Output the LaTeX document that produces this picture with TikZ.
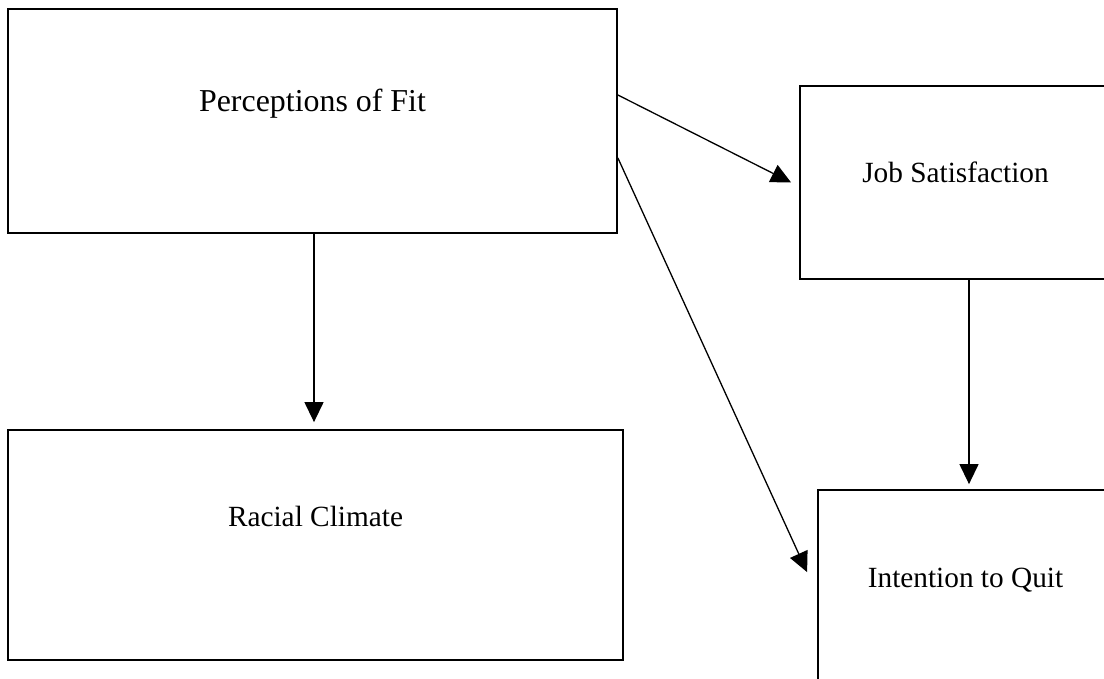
\documentclass[tikz,border=0pt]{standalone}
\usepackage{fontspec}
\setmainfont{Liberation Serif}
\usetikzlibrary{arrows.meta, positioning, calc}

\begin{document}
\begin{tikzpicture}[x=1pt, y=-1pt,
        box/.style={draw=black, line width=1.8pt, rectangle, inner sep=0pt},
        lbl/.style={anchor=base, inner sep=0pt, font=\fontsize{29.3}{35}\selectfont},
        arrow/.style={-{Triangle[length=20pt, width=19pt]}, line width=1.3pt, black}
    ]
        \useasboundingbox (0,0) rectangle (1104,678);
        \clip (0,0) rectangle (1104,678);

        % boxes
        \node[box, minimum width=609pt, minimum height=224pt] (pof) at (312.5,121) {};
        \node[box, minimum width=311pt, minimum height=193pt] (js) at (955.5,182.5) {};
        \node[box, minimum width=615pt, minimum height=230pt] (rc) at (315.5,545) {};
        \node[box, minimum width=295pt, minimum height=210pt] (iq) at (965.5,595) {};

        % labels
        \node[lbl, font=\fontsize{31.9}{38}\selectfont] (pof-txt) at ([yshift=-103pt]pof.north) {Perceptions of Fit};
        \node[lbl] (js-txt) at ([yshift=-97pt]js.north) {Job Satisfaction};
        \node[lbl] (rc-txt) at ([yshift=-97pt]rc.north) {Racial Climate};
        \node[lbl] (iq-txt) at ([yshift=-98pt]iq.north) {Intention to Quit};

        % paths
        \draw[arrow, shorten >=7pt] ([xshift=1.5pt]pof.south) -- ([xshift=1.5pt]pof.south |- rc.north);
        \draw[arrow] ([yshift=26pt]pof.east) -- ([xshift=-8pt]js.west);
        \draw[arrow] ([yshift=-37pt]pof.east) -- ($(iq.north west)+(-10,83)$);
        \draw[arrow, shorten >=5pt] ([xshift=13.5pt]js.south) -- ([xshift=13.5pt]js.south |- iq.north);
    \end{tikzpicture}
\end{document}
